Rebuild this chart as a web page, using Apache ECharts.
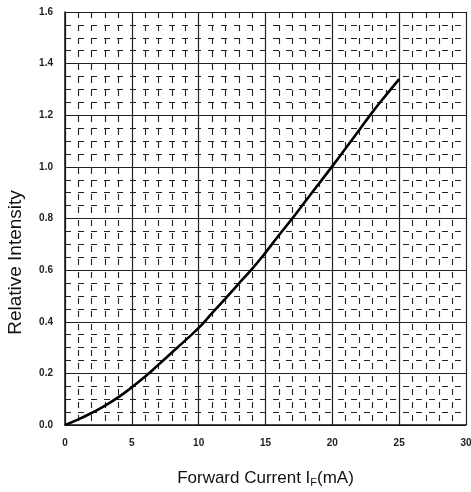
<!DOCTYPE html>
<html>
<head>
<meta charset="utf-8">
<script src="https://cdn.jsdelivr.net/npm/echarts@6/dist/echarts.min.js"></script>
<style>
html,body{margin:0;padding:0;background:#fff;}
#c{width:471px;height:492px;}
</style>
</head>
<body>
<div id="c"></div>
<script>
const currentMA = [0, 1, 2, 3, 4, 5, 6, 7, 8, 9, 10, 11, 12, 13, 14, 15, 16, 17, 18, 19, 20, 21, 22, 23, 24, 25];
const relIntensity = [0, 0.022, 0.047, 0.075, 0.108, 0.146, 0.188, 0.234, 0.281, 0.328, 0.376, 0.433, 0.49, 0.548, 0.605, 0.668, 0.735, 0.8, 0.868, 0.935, 1.003, 1.072, 1.142, 1.212, 1.277, 1.34];
const xTicks = [0, 5, 10, 15, 20, 25, 30];
const yTicks = [0.0, 0.2, 0.4, 0.6, 0.8, 1.0, 1.2, 1.4, 1.6];

const chart = echarts.init(document.getElementById('c'));
const labelFont = {fontFamily: '"Liberation Sans Narrow", "Liberation Sans", Arial, sans-serif', fontWeight: 'bold', fontSize: 10, color: '#222'};
chart.setOption({
  animation: false,
  backgroundColor: '#fff',
  grid: {left: 65, right: 5, top: 12, bottom: 67, outerBoundsMode: 'none', containLabel: false},
  xAxis: {
    type: 'value', min: xTicks[0], max: xTicks[xTicks.length - 1], interval: 5,
    name: 'Forward Current I{sub|F}(mA)', nameLocation: 'middle', nameGap: 44,
    nameTextStyle: {fontFamily: '"Liberation Sans", Arial, sans-serif', fontSize: 17, color: '#111',
      rich: {sub: {fontSize: 11, verticalAlign: 'bottom', padding: [8, 0, 0, 0], color: '#111', fontFamily: '"Liberation Sans", Arial, sans-serif'}}},
    axisLine: {show: true, lineStyle: {color: '#111', width: 1.5}},
    axisTick: {show: false},
    axisLabel: Object.assign({margin: 13}, labelFont),
    splitLine: {show: true, lineStyle: {color: '#222', width: 1.2}},
    minorTick: {show: false, splitNumber: 5},
    minorSplitLine: {show: true, lineStyle: {color: '#222', width: 1.1, type: [6, 7]}}
  },
  yAxis: {
    type: 'value', min: yTicks[0], max: yTicks[yTicks.length - 1], interval: 0.2,
    name: 'Relative Intensity', nameLocation: 'middle', nameGap: 40,
    nameTextStyle: {fontFamily: '"Liberation Sans", Arial, sans-serif', fontSize: 19, color: '#111', padding: [0, 88, 0, 0]},
    axisLine: {show: true, lineStyle: {color: '#111', width: 1.5}},
    axisTick: {show: false},
    axisLabel: Object.assign({margin: 12, formatter: v => v.toFixed(1)}, labelFont),
    splitLine: {show: true, lineStyle: {color: '#222', width: 1.2}},
    minorTick: {show: false, splitNumber: 4},
    minorSplitLine: {show: true, lineStyle: {color: '#222', width: 1.1, type: [6, 7]}}
  },
  series: [{
    type: 'line',
    data: currentMA.map((x, i) => [x, relIntensity[i]]),
    smooth: 0.5,
    showSymbol: false,
    lineStyle: {color: '#000', width: 2.6}
  }]
});
</script>
</body>
</html>
